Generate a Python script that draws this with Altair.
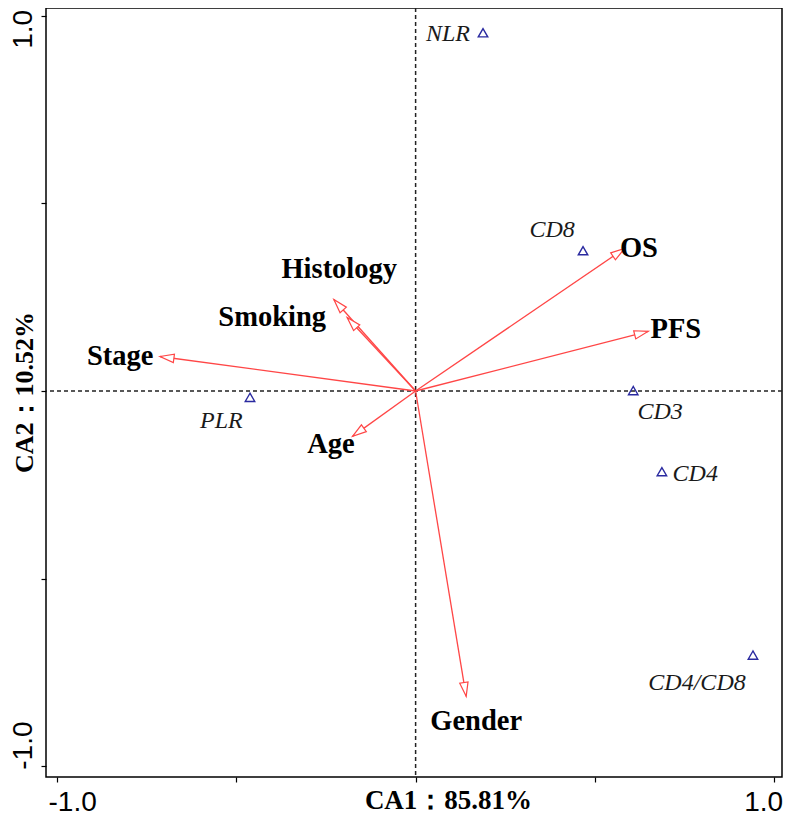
import altair as alt
import pandas as pd

# ---- data ----
pt_names = ["NLR", "CD8", "CD3", "CD4", "CD4/CD8", "PLR"]
pt_x = [0.188, 0.467, 0.607, 0.687, 0.941, -0.462]
pt_y = [0.955, 0.374, 0.001, -0.215, -0.704, -0.017]
pt_lx = [0.090, 0.381, 0.682, 0.780, 0.785, -0.542]
pt_ly = [0.952, 0.430, -0.057, -0.222, -0.779, -0.079]

env_names = ["OS", "PFS", "Stage", "Histology", "Smoking", "Age", "Gender"]
env_x = [0.583, 0.649, -0.713, -0.228, -0.191, -0.176, 0.141]
env_y = [0.380, 0.159, 0.092, 0.244, 0.196, -0.121, -0.814]
env_lx = [0.623, 0.726, -0.824, -0.213, -0.400, -0.236, 0.169]
env_ly = [0.380, 0.164, 0.092, 0.324, 0.196, -0.142, -0.880]

x_title = "CA1：85.81%"
y_title = "CA2：10.52%"
tick_vals = [-1.0, -0.5, 0.0, 0.5, 1.0]
x_domain = [-1.031, 1.022]
y_domain = [-1.029, 1.021]

W, H = 736, 769

pts = pd.DataFrame({"name": pt_names, "x": pt_x, "y": pt_y, "lx": pt_lx, "ly": pt_ly})
env = pd.DataFrame({"name": env_names, "x": env_x, "y": env_y, "lx": env_lx, "ly": env_ly})
zero = pd.DataFrame({"v": [0.0]})

xs = alt.Scale(domain=x_domain, nice=False, zero=False)
ys = alt.Scale(domain=y_domain, nice=False, zero=False)

label_expr = "datum.value == 1 ? '1.0' : (datum.value == -1 ? '-1.0' : '')"

xaxis = alt.Axis(
    values=tick_vals, labelExpr=label_expr, labelFont="Liberation Sans",
    labelFontSize=28, labelColor="black", labelPadding=28, labelBaseline="alphabetic",
    labelAlign="center",
    labelOffset={"condition": {"test": "datum.value < 0", "value": 15}, "value": -11},
    tickSize=5, tickColor="black", tickWidth=1.2, domain=False, grid=False,
    title=x_title, titleFont="Liberation Serif", titleFontWeight="bold",
    titleFontSize=27, titleColor="black", titleX=402, titleY=23,
    titleAlign="center", titleBaseline="middle",
)
yaxis = alt.Axis(
    values=tick_vals, labelExpr=label_expr, labelFont="Liberation Sans",
    labelFontSize=28, labelColor="black", labelPadding=18, labelAngle=270,
    labelAlign="center", labelBaseline="middle",
    labelOffset={"condition": {"test": "datum.value > 0", "value": 13}, "value": -21},
    tickSize=5, tickColor="black", tickWidth=1.2, domain=False, grid=False,
    title=y_title, titleFont="Liberation Serif", titleFontWeight="bold",
    titleFontSize=26, titleColor="black", titleX=-22, titleY=384,
    titleAngle=270, titleAlign="center", titleBaseline="middle",
)

def X(f):
    return alt.X(f, scale=xs, axis=xaxis)

def Y(f):
    return alt.Y(f, scale=ys, axis=yaxis)

vline = alt.Chart(zero).mark_rule(color="#222", strokeDash=[4, 3], strokeWidth=1.5).encode(x=X("v:Q"))
hline = alt.Chart(zero).mark_rule(color="#222", strokeDash=[4, 3], strokeWidth=1.5).encode(y=Y("v:Q"))

red = "#ff4646"

arrows = alt.Chart(env).transform_calculate(x0="0", y0="0").mark_rule(
    color=red, strokeWidth=1.3
).encode(x=X("x0:Q"), y=Y("y0:Q"), x2="x:Q", y2="y:Q")

heads = alt.Chart(env).transform_calculate(
    px="datum.x * 358.5", py="datum.y * 375.5"
).transform_calculate(
    L="sqrt(datum.px * datum.px + datum.py * datum.py)"
).transform_calculate(
    hx="datum.x - 7 * (datum.px / datum.L) / 358.5",
    hy="datum.y - 7 * (datum.py / datum.L) / 375.5",
    ang="(atan2(datum.px, datum.py) * 180 / PI + 360) % 360",
).mark_point(
    shape="M0,-1L0.6,1L-0.6,1Z", filled=True, fill="white", stroke=red,
    strokeWidth=1.2, size=196, opacity=1,
).encode(x=X("hx:Q"), y=Y("hy:Q"), angle=alt.Angle("ang:Q", scale=None))

env_labels = alt.Chart(env).mark_text(
    font="Liberation Serif", fontWeight="bold", fontSize=28.5, color="black",
    align="center", baseline="middle",
).encode(x=X("lx:Q"), y=Y("ly:Q"), text="name:N")

tri = alt.Chart(pts).mark_point(
    shape="triangle-up", filled=False, color="#2a2aa0", size=90, strokeWidth=1.4, opacity=1,
).encode(x=X("x:Q"), y=Y("y:Q"))

pt_labels = alt.Chart(pts).mark_text(
    font="Liberation Serif", fontStyle="italic", fontSize=24, color="#1a1a1a",
    align="center", baseline="middle",
).encode(x=X("lx:Q"), y=Y("ly:Q"), text="name:N")

chart = alt.layer(vline, hline, arrows, heads, tri, env_labels, pt_labels).properties(
    width=W, height=H,
    autosize=alt.AutoSizeParams(type="none"),
    padding={"left": 38, "top": 0, "right": 1, "bottom": 40},
    background="white",
).configure_view(stroke="black", strokeWidth=1.5)

chart.save("out.html", embed_options={"renderer": "svg", "actions": False})
